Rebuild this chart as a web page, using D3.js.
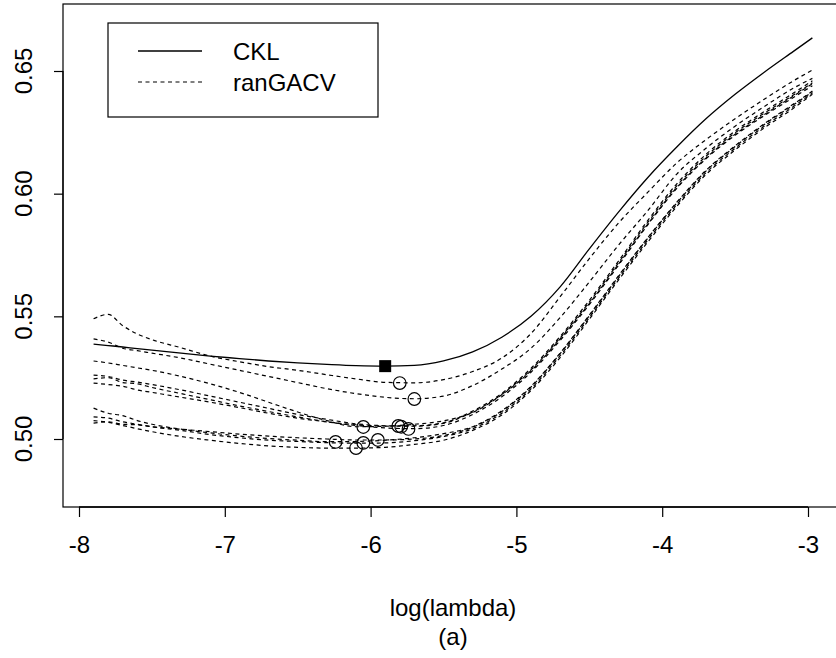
<!DOCTYPE html>
<html>
<head>
<meta charset="utf-8">
<script src="https://cdn.jsdelivr.net/npm/d3@7"></script>
<style>
body{margin:0;background:#fff;}
text{font-family:"Liberation Sans",Arial,Helvetica,sans-serif;fill:#000;}
</style>
</head>
<body>
<svg id="svg" width="836" height="658"></svg>
<script>
// log(lambda) grid shared by all curves
var lambdaGrid = [-7.9,-7.8,-7.7,-7.6,-7.5,-7.3,-7.1,-6.9,-6.7,-6.5,-6.3,-6.1,-5.9,-5.7,-5.5,-5.3,-5.1,-4.9,-4.7,-4.5,-4.3,-4.1,-3.9,-3.7,-3.5,-3.3,-3.1,-2.97];
var ckl = [.5387,.5381,.5375,.5368,.5362,.5350,.5338,.5328,.5318,.5310,.5304,.5299,.5297,.5300,.5318,.5355,.5415,.5500,.5620,.5775,.5925,.6065,.6190,.6305,.6405,.6495,.6580,.6635];
var gacv1 = [.5490,.5508,.5462,.5428,.5405,.5372,.5338,.5315,.5295,.5280,.5262,.5245,.5231,.5229,.5242,.5275,.5330,.5430,.5580,.5735,.5880,.6005,.6125,.6220,.6305,.6385,.6460,.6504];
var gacv2 = [.5408,.5395,.5370,.5360,.5350,.5330,.5305,.5280,.5255,.5230,.5205,.5185,.5170,.5164,.5175,.5218,.5285,.5370,.5495,.5640,.5790,.5930,.6080,.6185,.6275,.6355,.6430,.6470];
var gacv3 = [.5318,.5310,.5300,.5290,.5280,.5255,.5225,.5190,.5150,.5110,.5075,.5050,.5052,.5060,.5074,.5108,.5180,.5278,.5408,.5552,.5712,.5875,.6025,.6145,.6242,.6322,.6398,.6448];
var gacv4 = [.5260,.5255,.5240,.5232,.5222,.5200,.5175,.5150,.5125,.5100,.5080,.5062,.5054,.5052,.5064,.5110,.5182,.5282,.5412,.5558,.5718,.5882,.6032,.6152,.6248,.6328,.6402,.6452];
var gacv5 = [.5245,.5250,.5230,.5225,.5210,.5185,.5160,.5135,.5112,.5090,.5070,.5055,.5045,.5042,.5055,.5100,.5172,.5272,.5402,.5548,.5708,.5872,.6022,.6142,.6238,.6318,.6392,.6440];
var gacv6 = [.5228,.5222,.5215,.5200,.5190,.5170,.5150,.5128,.5105,.5085,.5070,.5058,.5053,.5054,.5066,.5114,.5186,.5288,.5418,.5565,.5725,.5890,.6040,.6160,.6255,.6335,.6410,.6460];
var gacv7 = [.5126,.5105,.5095,.5075,.5060,.5040,.5025,.5012,.5002,.4995,.4989,.4990,.4995,.5005,.5022,.5050,.5115,.5215,.5350,.5505,.5665,.5820,.5965,.6095,.6195,.6285,.6365,.6418];
var gacv8 = [.5090,.5085,.5070,.5060,.5050,.5035,.5018,.5005,.4995,.4990,.4985,.4983,.4984,.4993,.5010,.5042,.5105,.5205,.5340,.5495,.5655,.5810,.5955,.6085,.6185,.6275,.6355,.6410];
var gacv9 = [.5065,.5070,.5060,.5058,.5050,.5040,.5030,.5020,.5012,.5005,.5000,.4996,.4996,.5000,.5014,.5048,.5112,.5212,.5348,.5502,.5662,.5818,.5962,.6092,.6192,.6282,.6362,.6415];
var gacv10 = [.5075,.5068,.5055,.5042,.5030,.5010,.4995,.4982,.4972,.4966,.4963,.4963,.4966,.4978,.4995,.5035,.5098,.5198,.5332,.5488,.5648,.5802,.5948,.6078,.6178,.6268,.6348,.6405];
// minimisers
var minLambda = [-5.80,-5.70,-6.05,-5.81,-5.79,-5.74,-5.95,-6.05,-6.10,-6.24];
var minGacv = [.5228,.5163,.5049,.5053,.5050,.5041,.4996,.4984,.4963,.4988];
var cklMin = [-5.9,.5297];
var xTicks = [-8,-7,-6,-5,-4,-3];
var yTicks = [0.50,0.55,0.60,0.65];
var legendLabels = ["CKL","ranGACV"];

var svg = d3.select("#svg");
var x = d3.scaleLinear().domain([-8,-3]).range([79,808]);
var y = d3.scaleLinear().domain([0.50,0.65]).range([439,71]);
var box = {l:63,t:4,r:842,b:507};

var line = function(vals){
	return d3.line().x(function(d,i){return x(lambdaGrid[i]);}).y(function(d){return y(d);}).curve(d3.curveMonotoneX)(vals);
};

[gacv1,gacv2,gacv3,gacv4,gacv5,gacv6,gacv7,gacv8,gacv9,gacv10].forEach(function(s){
	svg.append("path").attr("d",line(s)).attr("fill","none").attr("stroke","#000").attr("stroke-width",1.2).attr("stroke-dasharray","4,3.5");
});
svg.append("path").attr("d",line(ckl)).attr("fill","none").attr("stroke","#000").attr("stroke-width",1.3);

minLambda.forEach(function(m,i){
	svg.append("circle").attr("cx",x(m)).attr("cy",y(minGacv[i])).attr("r",6.3).attr("fill","none").attr("stroke","#000").attr("stroke-width",1.2);
});
svg.append("rect").attr("x",x(cklMin[0])-6).attr("y",y(cklMin[1])-6).attr("width",12).attr("height",12).attr("fill","#000");

// box
svg.append("rect").attr("x",box.l).attr("y",box.t).attr("width",box.r-box.l).attr("height",box.b-box.t).attr("fill","none").attr("stroke","#000").attr("stroke-width",1.2);

// x axis (plain hyphen minus like R)
var xa = svg.append("g").attr("transform","translate(0,"+box.b+")")
	.call(d3.axisBottom(x).tickValues(xTicks).tickSize(10).tickPadding(19).tickFormat(function(d){return String(d);}));
xa.select(".domain").attr("d","M"+x(-8)+",0H"+x(-3)).attr("stroke-width",1.4);
xa.selectAll("line").attr("stroke-width",1.2);
xa.selectAll("text").attr("font-size",24).attr("font-family","Liberation Sans, Arial, sans-serif");

// y axis
var ya = svg.append("g").attr("transform","translate("+box.l+",0)")
	.call(d3.axisLeft(y).tickValues(yTicks).tickSize(9).tickFormat(""));
ya.select(".domain").attr("d","M0,"+y(0.50)+"V"+y(0.65)).attr("stroke-width",1.2);
ya.selectAll("line").attr("stroke-width",1.2);
yTicks.forEach(function(t){
	svg.append("text").attr("transform","translate(32,"+y(t)+") rotate(-90)").attr("text-anchor","middle").attr("font-size",24).text(t.toFixed(2));
});

// titles
svg.append("text").attr("x",453).attr("y",616).attr("text-anchor","middle").attr("font-size",24).text("log(lambda)");
svg.append("text").attr("x",453).attr("y",645).attr("text-anchor","middle").attr("font-size",24).text("(a)");

// legend
var lg = svg.append("g");
lg.append("rect").attr("x",108).attr("y",23).attr("width",270).attr("height",94).attr("fill","#fff").attr("stroke","#000").attr("stroke-width",1.2);
lg.append("line").attr("x1",138).attr("x2",202).attr("y1",51).attr("y2",51).attr("stroke","#000").attr("stroke-width",1.3);
lg.append("line").attr("x1",138).attr("x2",202).attr("y1",82).attr("y2",82).attr("stroke","#000").attr("stroke-width",1.2).attr("stroke-dasharray","4,3.5");
legendLabels.forEach(function(l,i){
	lg.append("text").attr("x",233).attr("y",60+i*31).attr("font-size",24).text(l);
});
</script>
</body>
</html>
